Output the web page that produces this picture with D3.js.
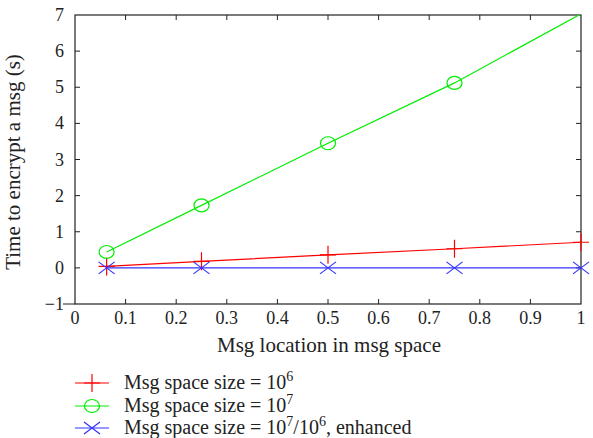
<!DOCTYPE html>
<html><head><meta charset="utf-8">
<script src="https://cdn.jsdelivr.net/npm/d3@7"></script>
<style>body{margin:0;background:#fff}svg{display:block}
svg#c text, svg#c tspan{font-family:"Liberation Serif","DejaVu Serif",serif !important}</style>
</head><body><svg id="c" width="593" height="438"></svg>
<script>
const xs = [0.0625, 0.25, 0.5, 0.75, 1];
const red = [0.04, 0.18, 0.36, 0.53, 0.71];
const green = [0.44, 1.73, 3.45, 5.12, 7.03];
const blue = [0.0, 0.0, 0.0, 0.0, 0.0];
const xTicks = [0,0.1,0.2,0.3,0.4,0.5,0.6,0.7,0.8,0.9,1];
const yTicks = [-1,0,1,2,3,4,5,6,7];
const labels = ["Msg space size = 10^6", "Msg space size = 10^7", "Msg space size = 10^7/10^6, enhanced"];
const series = [
  {name: labels[0], vals: red, color: "#ff0000", mark: "plus"},
  {name: labels[1], vals: green, color: "#00ee00", mark: "circle"},
  {name: labels[2], vals: blue, color: "#3333ff", mark: "cross"}
];
const FF = "Liberation Serif";
const L=75,R=581,T=15,B=304;
const svg=d3.select("#c");
const x=d3.scaleLinear().domain([0,1]).range([L,R]);
const y=d3.scaleLinear().domain([-1,7]).range([B,T]);
svg.append("defs").append("clipPath").attr("id","clip").append("rect").attr("x",L).attr("y",T).attr("width",R-L).attr("height",B-T);
const fmt=d=>d<0?"\u2212"+Math.abs(d):String(d);
const tl=5;
const ax=svg.append("g").attr("stroke","#222");
xTicks.forEach(v=>{
  if(v>0 && v<1){
    ax.append("line").attr("x1",x(v)).attr("x2",x(v)).attr("y1",B).attr("y2",B-tl);
    ax.append("line").attr("x1",x(v)).attr("x2",x(v)).attr("y1",T).attr("y2",T+tl);
  }
});
yTicks.forEach(v=>{
  if(v>-1 && v<7){
    ax.append("line").attr("x1",L).attr("x2",L+tl).attr("y1",y(v)).attr("y2",y(v));
    ax.append("line").attr("x1",R).attr("x2",R-tl).attr("y1",y(v)).attr("y2",y(v));
  }
});
ax.append("line").attr("x1",L-12).attr("x2",L).attr("y1",B).attr("y2",B);
const tg=svg.append("g").style("font-family",FF).style("font-size","18px").style("fill","#222");
tg.selectAll("text.xt").data(xTicks).join("text").attr("class","xt")
  .attr("x",d=>x(d)).attr("y",B+20).attr("text-anchor","middle").text(fmt);
tg.selectAll("text.yt").data(yTicks).join("text").attr("class","yt")
  .attr("x",L-11).attr("y",d=>y(d)+6).attr("text-anchor","end").text(fmt);
svg.append("rect").attr("x",L).attr("y",T).attr("width",R-L).attr("height",B-T).attr("fill","none").attr("stroke","#222").attr("stroke-width",1.2);
svg.append("text").attr("x",(L+R)/2+1).attr("y",352).attr("text-anchor","middle")
  .style("font-family",FF).style("font-size","21px").style("fill","#222").text("Msg location in msg space");
svg.append("text").attr("transform",`translate(20,162) rotate(-90)`).attr("text-anchor","middle")
  .style("font-family",FF).style("font-size","21px").style("fill","#222").text("Time to encrypt a msg (s)");
function marker(sel,type,color,cx,cy){
  if(type==="plus"){
    sel.append("path").attr("d",`M${cx-8},${cy}H${cx+8}M${cx},${cy-9}V${cy+9}`).attr("stroke",color).attr("fill","none").attr("stroke-width",1.2);
  } else if(type==="circle"){
    sel.append("ellipse").attr("cx",cx).attr("cy",cy).attr("rx",7.5).attr("ry",6.5).attr("stroke",color).attr("fill","none").attr("stroke-width",1.2);
  } else {
    sel.append("path").attr("d",`M${cx-8},${cy-6}L${cx+8},${cy+6}M${cx-8},${cy+6}L${cx+8},${cy-6}`).attr("stroke",color).attr("fill","none").attr("stroke-width",1.2);
  }
}
const line=d3.line().x(d=>x(d[0])).y(d=>y(d[1]));
const pg=svg.append("g").attr("clip-path","url(#clip)");
series.forEach(s=>{
  const pts=xs.map((v,i)=>[v,s.vals[i]]);
  pg.append("path").attr("d",line(pts)).attr("stroke",s.color).attr("fill","none").attr("stroke-width",1.2);
});
series.forEach(s=>{
  xs.forEach((v,i)=>{
    if(s.vals[i]<=7 && s.vals[i]>=-1) marker(svg,s.mark,s.color,x(v),y(s.vals[i]));
  });
});
const ly=[383,406,428];
series.forEach((s,i)=>{
  svg.append("line").attr("x1",75).attr("x2",109).attr("y1",ly[i]).attr("y2",ly[i]).attr("stroke",s.color).attr("stroke-width",1.2);
  marker(svg,s.mark,s.color,92,ly[i]);
  const parts=s.name.split(/(\^\d+)/).filter(p=>p.length);
  const t=svg.append("text").attr("x",124).attr("y",ly[i]+6)
    .style("font-family",FF).style("font-size","20px").style("fill","#222");
  let sup=false;
  parts.forEach(p=>{
    if(p.startsWith("^")){ t.append("tspan").attr("dy",-8).style("font-size","14px").text(p.slice(1)); sup=true; }
    else { t.append("tspan").attr("dy",sup?8:0).text(p); sup=false; }
  });
});
</script></body></html>
